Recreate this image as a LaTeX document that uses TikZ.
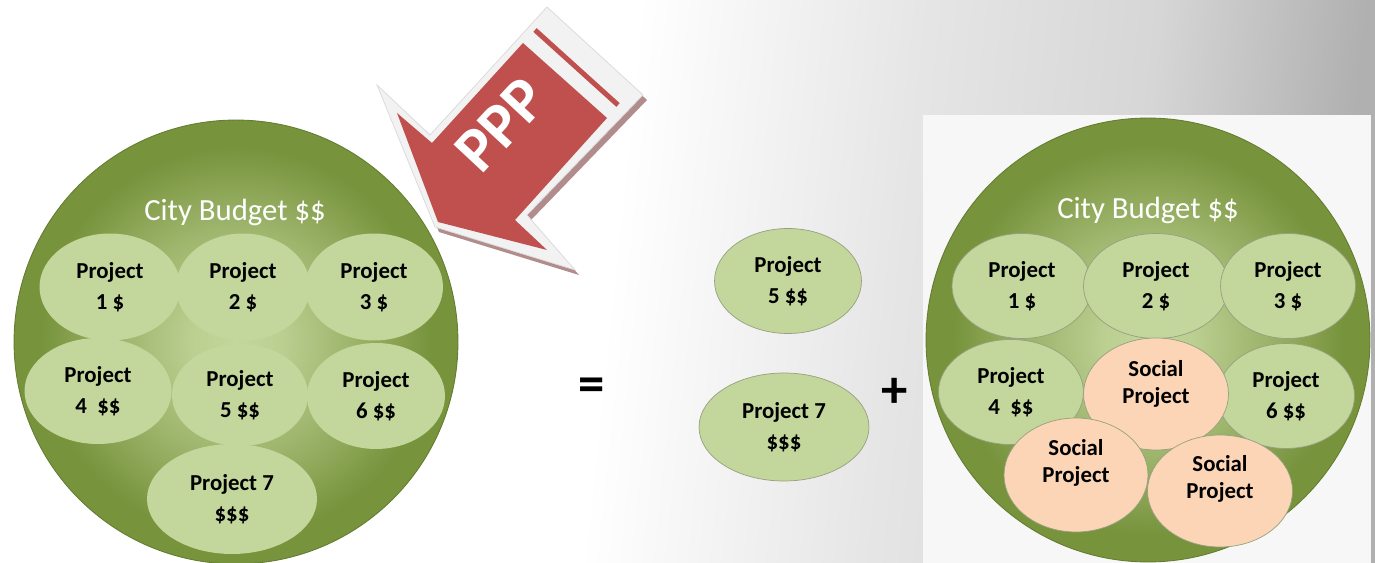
\documentclass[tikz,border=0pt]{standalone}
\usepackage{fontspec}
\setmainfont{Carlito}
\usetikzlibrary{shapes.geometric}

\definecolor{olivegreen}{RGB}{119,147,60}
\definecolor{palegreen}{RGB}{195,214,155}
\definecolor{peach}{RGB}{251,213,181}
\definecolor{arrowred}{RGB}{192,80,77}
\definecolor{framegray}{RGB}{242,242,242}
\definecolor{shadowrose}{RGB}{178,140,140}
\definecolor{panelgray}{RGB}{247,247,247}

\pgfdeclarehorizontalshading{backdrop}{100bp}{color(0bp)=(white); color(47bp)=(white); color(58bp)=(black!10); color(67bp)=(black!16); color(75bp)=(black!31); color(100bp)=(black!31)}
\pgfdeclareradialshading{budgetglow}{\pgfpoint{0bp}{0bp}}{color(0bp)=(palegreen); color(5bp)=(palegreen!90!olivegreen); color(14bp)=(olivegreen!55!palegreen); color(22bp)=(olivegreen); color(50bp)=(olivegreen)}

\tikzset{
	budget/.style={circle, minimum size=8.88cm, inner sep=0pt, draw=olivegreen!85!black, line width=0.5pt, shade, shading=budgetglow},
	budgettitle/.style={text=white, font=\fontsize{17.5}{20}\selectfont},
	project/.style={ellipse, inner sep=0pt, fill=palegreen, align=center, font=\fontsize{13}{17.5}\selectfont\bfseries},
	edged/.style={draw=olivegreen!45!gray!80, line width=0.4pt},
	social/.style={project, edged, fill=peach},
	tag/.style={align=center, font=\fontsize{13}{15}\selectfont\bfseries},
	sign/.style={font=\fontsize{30}{30}\selectfont\bfseries}
}

\begin{document}
\begin{tikzpicture}[x=0.02cm, y=-0.02cm]
	\useasboundingbox (0,0) rectangle (1375,563);
	\shade[shading=backdrop, shading angle=-6] (0,0) rectangle (1375,563);

	% budget before the partnership
	\node[budget] (leftbudget) at (236,342) {};
	\node[budgettitle] (lefttitle) at (235,212) {City Budget \$\$};
	\node[project, minimum width=2.82cm, minimum height=2.14cm] (lp1) at (110,287) {Project\\1 \$};
	\node[project, minimum width=2.68cm, minimum height=2.14cm] (lp2) at (243,287) {Project\\2 \$};
	\node[project, minimum width=2.76cm, minimum height=2.14cm] (lp3) at (374,287) {Project\\3 \$};
	\node[project, minimum width=2.94cm, minimum height=2.12cm] (lp4) at (98,391) {Project\\4 \ \$\$};
	\node[project, minimum width=2.72cm, minimum height=2.04cm] (lp5) at (240,395) {Project\\5 \$\$};
	\node[project, minimum width=2.76cm, minimum height=2.12cm] (lp6) at (376,396) {Project\\6 \$\$};
	\node[project, minimum width=3.40cm, minimum height=2.20cm] (lp7) at (232,499) {Project 7\\\$\$\$};

	% PPP arrow
	\fill[shadowrose] (551,12) -- (647,100) -- (531,220) -- (579,275) -- (439,232) -- (381,90) -- (434,140) -- cycle;
	\filldraw[fill=framegray, draw=black!15] (547,7) -- (643,95) -- (527,215) -- (575,270) -- (435,227) -- (377,85) -- (430,135) -- cycle;
	\fill[arrowred] (523,43) -- (607,118) -- (515,220) -- (547,250) -- (438,222) -- (397,113) -- (432,143) -- cycle;
	\draw[arrowred, line width=0.1cm] (535,30) -- (618,105);
	\node[text=white, rotate=47, font=\fontsize{36}{36}\selectfont\bfseries] (ppp) at (501,125) {PPP};

	\node[sign] (equals) at (592,390) {=};

	% projects taken over
	\node[project, edged, minimum width=2.94cm, minimum height=2.10cm] (mp5) at (788,281) {Project\\5 \$\$};
	\node[project, edged, minimum width=3.40cm, minimum height=2.16cm] (mp7) at (784,427) {Project 7\\\$\$\$};

	\node[sign] (plus) at (895,393) {+};

	% budget after the partnership
	\fill[panelgray] (923,115) rectangle (1371,563);
	\node[budget] (rightbudget) at (1148,340) {};
	\node[budgettitle] (righttitle) at (1148,210) {City Budget \$\$};
	\node[project, edged, minimum width=2.80cm, minimum height=2.10cm] (rp1) at (1022,286) {Project\\1 \$};
	\node[project, edged, minimum width=2.90cm, minimum height=2.10cm] (rp2) at (1156,286) {Project\\2 \$};
	\node[project, edged, minimum width=2.70cm, minimum height=2.10cm] (rp3) at (1288,286) {Project\\3 \$};
	\node[project, edged, minimum width=2.90cm, minimum height=2.10cm] (rp4) at (1011,392) {Project\\4 \ \$\$};
	\node[project, edged, minimum width=2.74cm, minimum height=2.10cm] (rp6) at (1286,396) {Project\\6 \$\$};
	\node[social, minimum width=2.90cm, minimum height=2.24cm] (rs1) at (1156,394) {};
	\node[tag] (rs1text) at ([yshift=0.2cm]rs1) {Social\\Project};
	\node[social, minimum width=2.88cm, minimum height=2.28cm] (rs2) at (1076,475) {};
	\node[tag] (rs2text) at ([yshift=0.24cm]rs2) {Social\\Project};
	\node[social, minimum width=2.90cm, minimum height=2.24cm] (rs3) at (1220,491) {};
	\node[tag] (rs3text) at ([yshift=0.24cm]rs3) {Social\\Project};
\end{tikzpicture}
\end{document}
